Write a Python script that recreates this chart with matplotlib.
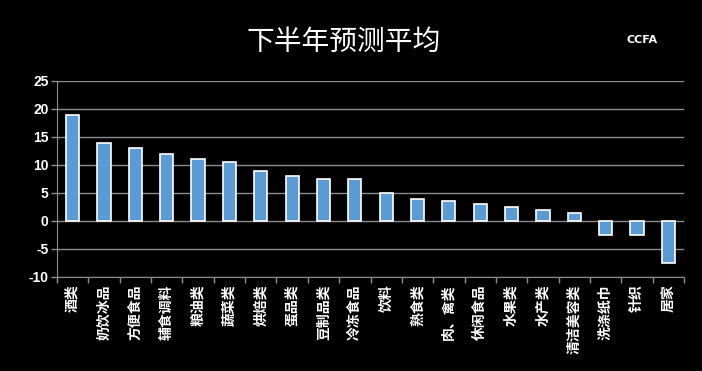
import matplotlib
matplotlib.use('Agg')
import matplotlib.pyplot as plt
import numpy as np

plt.rcParams['font.family'] = ['Noto Sans CJK SC', 'DejaVu Sans']

# Data
categories = ['酒类', '奶饮冰品', '方便食品', '辅食调料', '粮油类', '蔬菜类', '烘焙类',
              '蛋品类', '豆制品类', '冷冻食品', '饮料', '熟食类', '肉、禽类', '休闲食品',
              '水果类', '水产类', '清洁美容类', '洗涤纸巾', '针织', '居家']
values = [19, 14, 13, 12, 11, 10.5, 9, 8, 7.5, 7.5, 5, 4, 3.5, 3, 2.5, 2, 1.5,
          -2.5, -2.5, -7.5]
yticks = [-10, -5, 0, 5, 10, 15, 20, 25]

fig = plt.figure(figsize=(7.02, 3.71), dpi=100, facecolor='black')
ax = fig.add_axes([57 / 702, 1 - 277 / 371, 627 / 702, 196 / 371], facecolor='black')

x = np.arange(len(categories))
ax.bar(x, values, width=0.42, color='#5B9BD5', edgecolor='white', linewidth=1.2, zorder=3)

ax.set_xlim(-0.5, len(categories) - 0.5)
ax.set_ylim(-10, 25)
ax.set_yticks(yticks)
ax.set_yticklabels([str(v) for v in yticks], color='white', fontsize=10,
                   fontweight='bold', family=['Liberation Sans', 'DejaVu Sans'])
ax.yaxis.grid(True, color='#8c8c8c', linewidth=1, zorder=0)

# category ticks between bars on bottom axis
ax.set_xticks(np.arange(len(categories) + 1) - 0.5)
ax.set_xticklabels([])
ax.tick_params(axis='x', colors='#8c8c8c', length=4, width=1)
ax.tick_params(axis='y', colors='#8c8c8c', length=4, width=1, labelcolor='white', pad=2)
for i, lab in enumerate(categories):
    ax.text(i, -11.3, lab, rotation=90, ha='center', va='top', color='white',
            fontsize=10, fontweight='bold')

for s in ['top', 'right']:
    ax.spines[s].set_visible(False)
for s in ['left', 'bottom']:
    ax.spines[s].set_color('#8c8c8c')

fig.text(0.49, 1 - 42 / 371, '下半年预测平均', ha='center', va='center', color='white',
         fontsize=20)
fig.text(642 / 702, 1 - 40 / 371, 'CCFA', ha='center', va='center', color='white',
         fontsize=8, fontweight='bold', family=['DejaVu Sans'])

fig.savefig('out.png', dpi=100, facecolor='black')
